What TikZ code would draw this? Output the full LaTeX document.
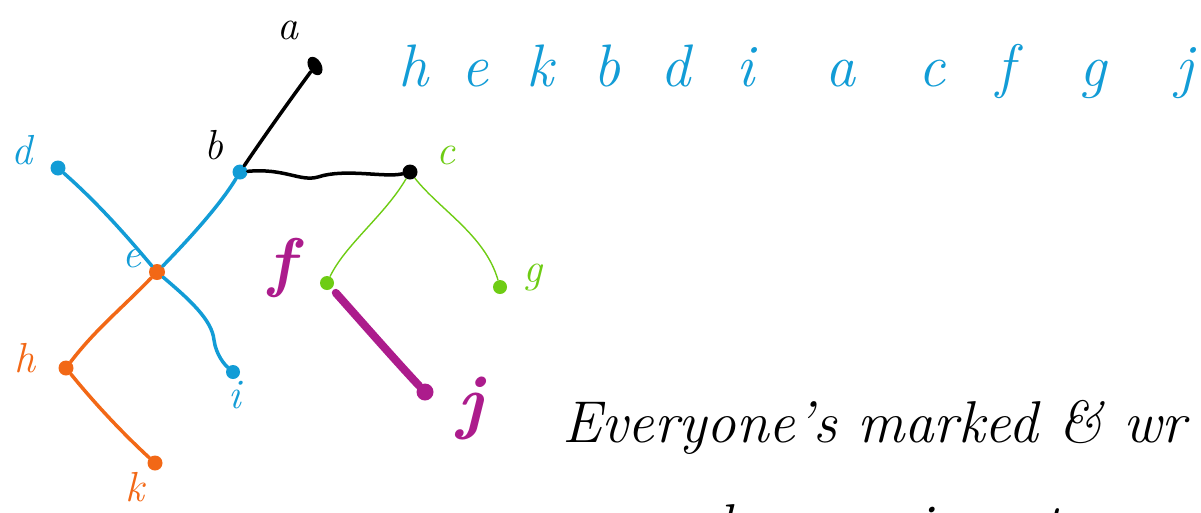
\documentclass[tikz,border=0pt]{standalone}
\usetikzlibrary{shapes.geometric}
\definecolor{cblue}{RGB}{18,156,214}
\definecolor{corange}{RGB}{242,104,22}
\definecolor{cgreen}{RGB}{110,204,20}
\definecolor{cmag}{RGB}{172,28,140}
\begin{document}
\begin{tikzpicture}[x=1pt,y=-1pt,
  vdot/.style={circle,fill,inner sep=0pt,minimum size=#1},
  vdot/.default=15pt,
  lbl/.style={font=\fontsize{42}{46}\selectfont\itshape,inner sep=0pt},
  toplbl/.style={font=\fontsize{60}{66}\selectfont\itshape,inner sep=0pt,anchor=base,text=cblue},
  note/.style={font=\fontsize{59}{64}\selectfont\itshape,inner sep=0pt,anchor=base west},
  pen/.style={line width=3.5pt,line cap=round,line join=round}]
\useasboundingbox (0,0) rectangle (1201,512);
% vertices
\node[ellipse,fill=black,inner sep=0pt,minimum width=13pt,minimum height=20pt,rotate=30] (a) at (315,66) {};
\node[vdot,fill=cblue] (b) at (240,172) {};
\node[vdot,fill=black] (c) at (410,172) {};
\node[vdot,fill=cblue] (d) at (58,168) {};
\node[vdot=16pt,fill=corange] (e) at (157,272) {};
\node[vdot,fill=corange] (h) at (66,368) {};
\node[vdot,fill=corange] (k) at (155,463) {};
\node[vdot=14pt,fill=cblue] (i) at (233,372) {};
\node[vdot=14pt,fill=cgreen] (f) at (327,283) {};
\node[vdot=14pt,fill=cgreen] (g) at (500,287) {};
\node[vdot=17pt,fill=cmag] (j) at (425,392) {};
% labels
\node[lbl] (la) at (288,30) {a};
\node[lbl] (lb) at (214,145) {b};
\node[lbl,text=cgreen] (lc) at (446,155) {c};
\node[lbl,text=cblue] (ld) at (22,150) {d};
\node[lbl,text=cblue] (le) at (132,258) {e};
\node[lbl,text=cmag,font=\fontsize{66}{68}\selectfont\bfseries\itshape] (lf) at (282,268) {f};
\node[lbl,text=cgreen] (lg) at (533,278) {g};
\node[lbl,text=corange] (lh) at (25,358) {h};
\node[lbl,text=cblue] (li) at (235,395) {i};
\node[lbl,text=cmag,font=\fontsize{72}{74}\selectfont\bfseries\itshape] (lj) at (470,408) {j};
\node[lbl,text=corange] (lk) at (135,487) {k};
% edges
\draw[pen] (b) .. controls (265,135) and (290,100) .. (a);
\draw[pen] (b) .. controls (285,168) and (300,182) .. (318,177) .. controls (345,168) and (385,178) .. (c);
\draw[pen,cblue] (d) .. controls (100,205) and (130,240) .. (e);
\draw[pen,cblue] (e) .. controls (190,238) and (220,205) .. (b);
\draw[pen,cblue] (e) .. controls (190,300) and (212,320) .. (214,340) .. controls (216,355) and (225,365) .. (i);
\draw[pen,corange] (e) .. controls (120,310) and (95,330) .. (h);
\draw[pen,corange] (h) .. controls (100,410) and (130,440) .. (k);
\draw[line width=1.4pt,cgreen] (c) .. controls (385,215) and (345,245) .. (f);
\draw[line width=1.4pt,cgreen] (c) .. controls (440,210) and (485,235) .. (g);
\draw[line width=8pt,line cap=round,cmag,shorten <=6pt] (f) .. controls (360,320) and (395,360) .. (j);
% top row
\node[toplbl] (t1) at (413,86) {h};
\node[toplbl] (t2) at (475,86) {e};
\node[toplbl] (t3) at (540,86) {k};
\node[toplbl] (t4) at (607,86) {b};
\node[toplbl] (t5) at (675,86) {d};
\node[toplbl] (t6) at (745,86) {i};
\node[toplbl] (t7) at (840,86) {a};
\node[toplbl] (t8) at (932,86) {c};
\node[toplbl] (t9) at (1005,86) {f};
\node[toplbl] (t10) at (1093,86) {g};
\node[toplbl] (t11) at (1184,86) {j};
% note
\node[note] (n1) at (562,442) {Everyone's marked \& wr};
\node[note] (n2) at (640,545) {and we assign at};
\end{tikzpicture}
\end{document}
